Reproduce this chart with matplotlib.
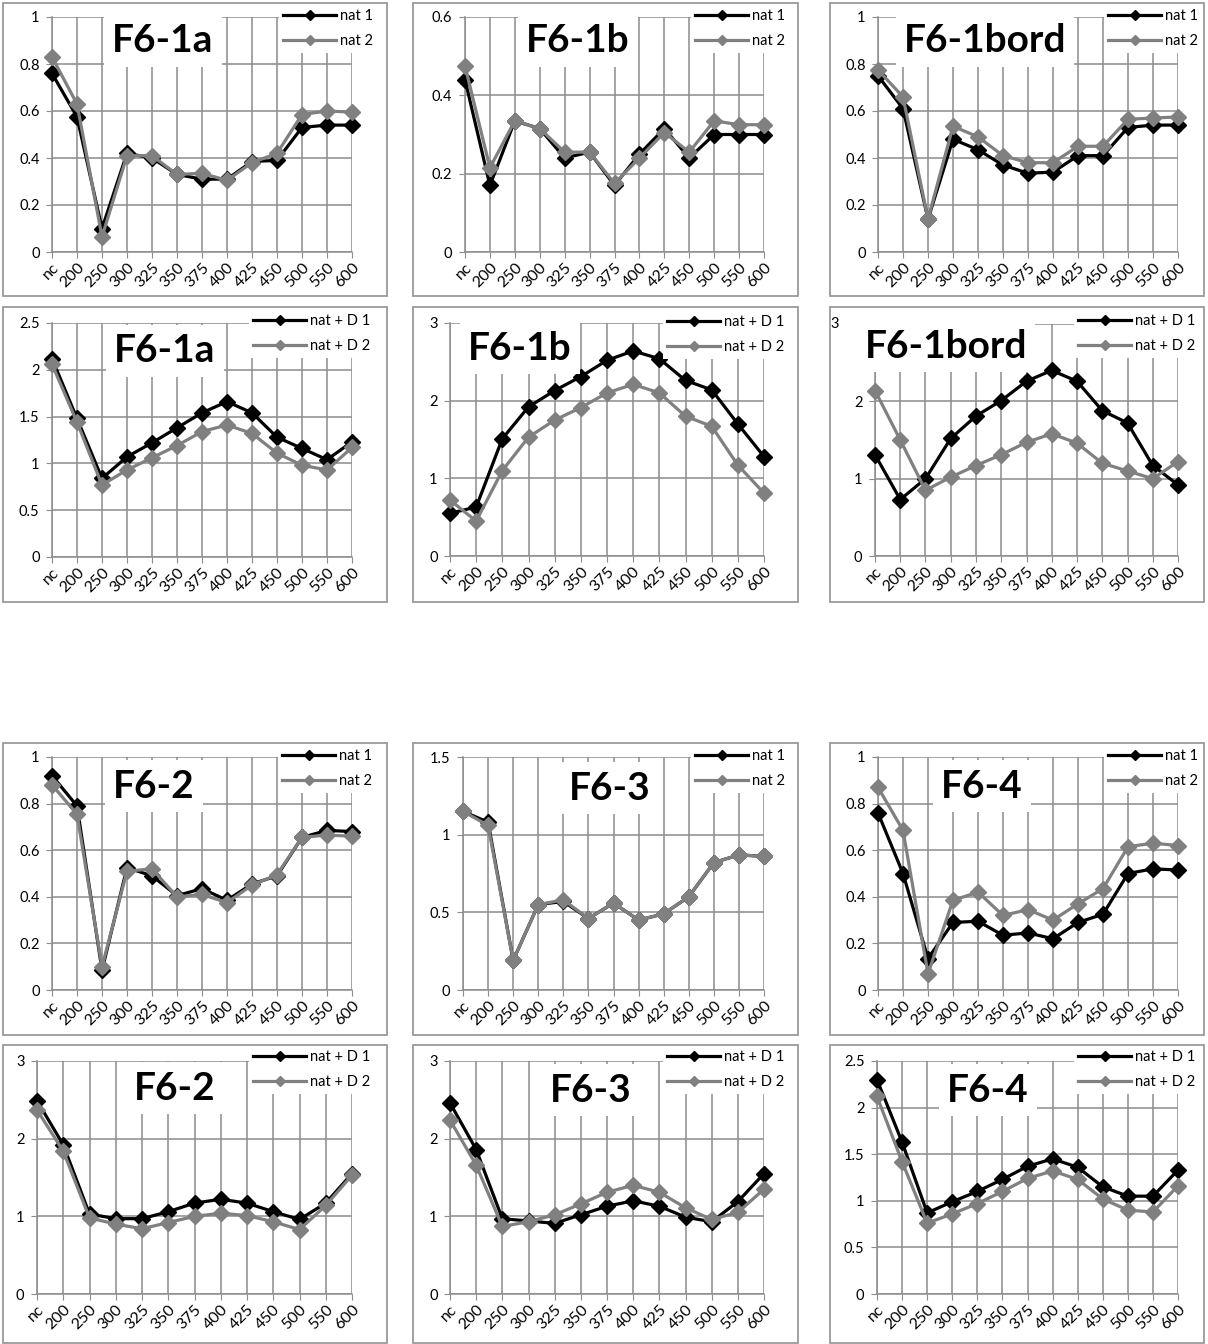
import matplotlib
matplotlib.use('Agg')
import matplotlib.pyplot as plt
from matplotlib.lines import Line2D
from matplotlib.patches import Rectangle
from matplotlib.ticker import MultipleLocator, FuncFormatter

plt.rcParams['font.family'] = ['Lato', 'DejaVu Sans']

categories = ['nc', '200', '250', '300', '325', '350', '375', '400', '425', '450', '500', '550', '600']

# "nat" series (upper chart of each block)
f61a_nat1 = [0.76, 0.575, 0.10, 0.42, 0.40, 0.33, 0.31, 0.31, 0.385, 0.39, 0.53, 0.54, 0.54]
f61a_nat2 = [0.83, 0.63, 0.065, 0.41, 0.41, 0.33, 0.335, 0.305, 0.38, 0.42, 0.585, 0.60, 0.595]
f61b_nat1 = [0.44, 0.17, 0.335, 0.315, 0.24, 0.255, 0.17, 0.25, 0.315, 0.24, 0.30, 0.30, 0.30]
f61b_nat2 = [0.475, 0.215, 0.335, 0.315, 0.255, 0.255, 0.175, 0.24, 0.305, 0.255, 0.335, 0.325, 0.325]
f61bord_nat1 = [0.75, 0.61, 0.14, 0.48, 0.435, 0.37, 0.335, 0.34, 0.41, 0.41, 0.53, 0.54, 0.54]
f61bord_nat2 = [0.775, 0.66, 0.14, 0.535, 0.49, 0.41, 0.38, 0.38, 0.45, 0.45, 0.565, 0.57, 0.575]
f62_nat1 = [0.92, 0.79, 0.085, 0.525, 0.49, 0.405, 0.435, 0.385, 0.455, 0.49, 0.655, 0.685, 0.68]
f62_nat2 = [0.88, 0.755, 0.10, 0.51, 0.52, 0.40, 0.41, 0.375, 0.45, 0.495, 0.655, 0.665, 0.66]
f63_nat1 = [1.15, 1.08, 0.19, 0.55, 0.57, 0.46, 0.56, 0.45, 0.49, 0.60, 0.82, 0.87, 0.86]
f63_nat2 = [1.15, 1.06, 0.19, 0.55, 0.58, 0.46, 0.56, 0.45, 0.49, 0.60, 0.82, 0.87, 0.86]
f64_nat1 = [0.76, 0.50, 0.135, 0.29, 0.295, 0.235, 0.245, 0.22, 0.29, 0.325, 0.50, 0.52, 0.515]
f64_nat2 = [0.87, 0.685, 0.07, 0.385, 0.42, 0.32, 0.345, 0.30, 0.37, 0.435, 0.615, 0.63, 0.62]

# "nat + D" series (lower chart of each block)
f61a_d1 = [2.12, 1.48, 0.84, 1.07, 1.22, 1.38, 1.54, 1.66, 1.54, 1.28, 1.16, 1.04, 1.23]
f61a_d2 = [2.06, 1.44, 0.77, 0.93, 1.06, 1.19, 1.34, 1.41, 1.32, 1.11, 0.98, 0.93, 1.17]
f61b_d1 = [0.55, 0.63, 1.51, 1.92, 2.13, 2.31, 2.52, 2.64, 2.54, 2.26, 2.14, 1.70, 1.28]
f61b_d2 = [0.72, 0.45, 1.10, 1.53, 1.75, 1.91, 2.10, 2.21, 2.10, 1.80, 1.67, 1.17, 0.81]
f61bord_d1 = [1.31, 0.73, 1.00, 1.52, 1.81, 2.01, 2.26, 2.40, 2.26, 1.88, 1.72, 1.17, 0.92]
f61bord_d2 = [2.14, 1.50, 0.85, 1.02, 1.17, 1.31, 1.47, 1.58, 1.46, 1.20, 1.10, 1.00, 1.22]
f62_d1 = [2.49, 1.92, 1.03, 0.97, 0.97, 1.06, 1.17, 1.22, 1.17, 1.06, 0.96, 1.17, 1.55]
f62_d2 = [2.37, 1.84, 0.98, 0.90, 0.84, 0.92, 1.00, 1.04, 1.01, 0.93, 0.83, 1.14, 1.53]
f63_d1 = [2.46, 1.86, 0.97, 0.94, 0.91, 1.02, 1.13, 1.20, 1.13, 0.99, 0.93, 1.19, 1.55]
f63_d2 = [2.24, 1.66, 0.87, 0.93, 1.02, 1.16, 1.31, 1.40, 1.31, 1.11, 0.96, 1.05, 1.35]
f64_d1 = [2.30, 1.63, 0.87, 0.99, 1.10, 1.23, 1.37, 1.45, 1.36, 1.15, 1.05, 1.05, 1.33]
f64_d2 = [2.12, 1.42, 0.76, 0.86, 0.97, 1.10, 1.24, 1.32, 1.23, 1.02, 0.90, 0.88, 1.16]

nat_labels = ['nat 1', 'nat 2']
natd_labels = ['nat + D 1', 'nat + D 2']

W, H = 1208, 1344
GRAY = '#808080'
GRID = '#8c8c8c'

fig = plt.figure(figsize=(W / 100, H / 100), dpi=100)


def fx(px):
    return px / W


def fy(py):
    return 1 - py / H


# panel frames: column x ranges, row y ranges (pixels)
cols = [(3, 387), (413, 798), (830, 1204)]
rows = [(3, 296), (307, 602), (743, 1035), (1045, 1343)]
for y0, y1 in rows:
    for x0, x1 in cols:
        fig.add_artist(Rectangle((fx(x0), fy(y1)), (x1 - x0) / W, (y1 - y0) / H,
                                 transform=fig.transFigure, fill=False,
                                 edgecolor='#9a9a9a', lw=1.3))


def draw(box, title, tpos, s1, s2, names, ymax, step, leg, top_shift=0):
    l, r, t, b = box
    ax = fig.add_axes([fx(l), fy(b), (r - l) / W, (b - t) / H])
    x = list(range(len(categories)))
    ax.plot(x, s1, color='black', lw=2.3, marker='D', ms=8, zorder=3, clip_on=False)
    ax.plot(x, s2, color=GRAY, lw=2.3, marker='D', ms=8, zorder=3, clip_on=False)
    ax.set_xlim(0, len(categories) - 1)
    ax.set_ylim(0, ymax)
    ax.set_xticks(x)
    ax.set_xticklabels(categories, fontsize=11.5)
    ax.tick_params(axis='x', length=4, color=GRID, pad=2)
    ax.yaxis.set_major_locator(MultipleLocator(step))

    def fmt(v, p):
        if top_shift and abs(v - ymax) < 1e-9:
            return ''
        return f'{v:g}'

    ax.yaxis.set_major_formatter(FuncFormatter(fmt))
    ax.tick_params(axis='y', labelsize=10.5, length=4, color=GRID, pad=5)
    if top_shift:
        # top label sits left of the title box
        ax.annotate(f'{ymax:g}', xy=(0, ymax), xycoords=('axes fraction', 'data'),
                    xytext=(-top_shift, 0), textcoords='offset pixels',
                    ha='right', va='center', fontsize=10.5)
    ax.grid(True, color=GRID, lw=1.1)
    ax.set_axisbelow(True)
    for s in ['top', 'right']:
        ax.spines[s].set_visible(False)
    for s in ['left', 'bottom']:
        ax.spines[s].set_color(GRID)
        ax.spines[s].set_linewidth(1.1)
    plt.setp(ax.get_xticklabels(), rotation=45, ha='right', rotation_mode='anchor')

    handles = [Line2D([], [], color='black', lw=2.3, marker='D', ms=5),
               Line2D([], [], color=GRAY, lw=2.3, marker='D', ms=5)]
    hx, hy = leg
    ax.legend(handles, names, loc='upper left',
              bbox_to_anchor=(fx(hx - 4), fy(hy - 12)), bbox_transform=fig.transFigure,
              frameon=True, facecolor='white', edgecolor='none', framealpha=1,
              fancybox=False, fontsize=10.5, handlelength=3.6, handletextpad=0.3,
              labelspacing=0.75, borderpad=0.3, borderaxespad=0)

    fig.text(fx(tpos[0]), fy(tpos[1] + 3), title, ha='center', va='center',
             fontsize=28, fontweight='bold', zorder=5,
             bbox=dict(facecolor='white', edgecolor='none', pad=6))


# (plot box l, r, t, b), title, title centre, series, labels, ymax, step, legend handle start
draw((52, 352, 17, 252), 'F6-1a', (163, 38), f61a_nat1, f61a_nat2, nat_labels, 1, 0.2, (283, 17))
draw((465, 764, 17, 252), 'F6-1b', (578, 38), f61b_nat1, f61b_nat2, nat_labels, 0.6, 0.2, (695, 17))
draw((878, 1178, 17, 252), 'F6-1bord', (985, 38), f61bord_nat1, f61bord_nat2, nat_labels, 1, 0.2, (1108, 17))

draw((52, 352, 323, 557), 'F6-1a', (165, 348), f61a_d1, f61a_d2, natd_labels, 2.5, 0.5, (253, 322))
draw((450, 764, 323, 556), 'F6-1b', (520, 345), f61b_d1, f61b_d2, natd_labels, 3, 1, (667, 323))
draw((875, 1178, 324, 556), 'F6-1bord', (946, 343), f61bord_d1, f61bord_d2, natd_labels, 3, 1, (1078, 322),
     top_shift=36)

draw((52, 352, 757, 990), 'F6-2', (154, 783), f62_nat1, f62_nat2, nat_labels, 1, 0.2, (282, 757))
draw((463, 764, 757, 990), 'F6-3', (610, 785), f63_nat1, f63_nat2, nat_labels, 1.5, 0.5, (695, 757))
draw((878, 1178, 757, 990), 'F6-4', (982, 783), f64_nat1, f64_nat2, nat_labels, 1, 0.2, (1108, 757))

draw((37, 352, 1061, 1294), 'F6-2', (175, 1085), f62_d1, f62_d2, natd_labels, 3, 1, (253, 1058))
draw((450, 764, 1061, 1294), 'F6-3', (591, 1087), f63_d1, f63_d2, natd_labels, 3, 1, (667, 1058))
draw((877, 1178, 1061, 1294), 'F6-4', (988, 1087), f64_d1, f64_d2, natd_labels, 2.5, 0.5, (1078, 1058))

fig.savefig('out.png', dpi=100)
